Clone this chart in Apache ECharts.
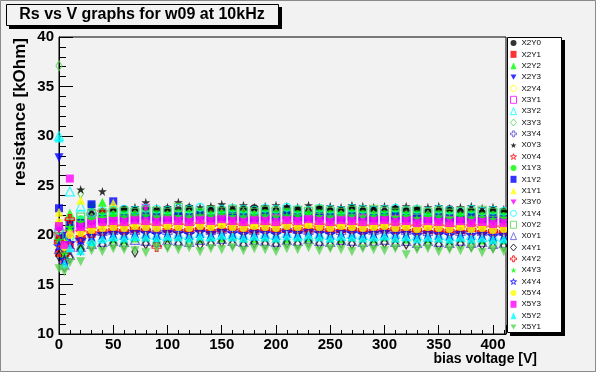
<!DOCTYPE html>
<html>
<head>
<meta charset="utf-8">
<script src="https://cdn.jsdelivr.net/npm/echarts@6/dist/echarts.min.js"></script>
<style>
  html, body { margin: 0; padding: 0; background: #f2f2f2; }
  #main { width: 596px; height: 372px; }
</style>
</head>
<body>
<div id="main"></div>
<script>
// bias voltage points [V]
const volts = [0, 5, 10, 20, 30, 40, 50, 60, 70, 80, 90, 100, 110, 120, 130, 140, 150,
  160, 170, 180, 190, 200, 210, 220, 230, 240, 250, 260, 270, 280, 290, 300,
  310, 320, 330, 340, 350, 360, 370, 380, 390, 400, 410];

// resistance [kOhm], one list per pad
const X2Y0 = [19.6, 18.9, 20.4,
  21.3, 22.0, 22.3, 22.4, 22.6, 22.5, 22.7, 22.4, 22.6, 22.5,
  22.7, 22.3, 22.6, 22.5, 22.4, 22.6, 22.7, 22.5, 22.4, 22.6,
  22.5, 22.3, 22.6, 22.4, 22.5, 22.7, 22.4, 22.5, 22.3, 22.6,
  22.4, 22.5, 22.3, 22.4, 22.6, 22.3, 22.4, 22.2, 22.4, 22.3];
const X2Y1 = [18.2, 17.6, 19.0,
  19.6, 20.1, 20.3, 20.5, 20.4, 20.6, 20.7, 20.5, 20.6, 20.8,
  20.6, 20.7, 20.5, 20.6, 20.8, 20.6, 20.5, 20.7, 20.6, 20.8,
  20.6, 20.5, 20.7, 20.6, 20.8, 20.6, 20.5, 20.7, 20.6, 20.5,
  20.7, 20.5, 20.6, 20.4, 20.6, 20.5, 20.7, 20.4, 20.5, 20.4];
const X2Y2 = [20.9, 18.0, 22.2,
  19.0, 19.4, 23.3, 19.6, 19.5, 19.7, 19.8, 19.6, 19.7, 19.9,
  19.7, 19.6, 19.8, 19.7, 19.9, 19.7, 19.6, 19.8, 19.7, 19.6,
  19.8, 19.7, 19.9, 19.7, 19.6, 19.8, 19.7, 19.6, 19.8, 19.7,
  19.6, 19.8, 19.6, 19.7, 19.5, 19.7, 19.6, 19.5, 19.6, 19.5];
const X2Y3 = [27.8, 19.5, 20.2,
  20.5, 20.9, 21.0, 21.1, 21.2, 21.0, 21.3, 21.2, 21.1, 21.3,
  21.2, 21.4, 21.1, 21.2, 21.3, 21.2, 21.1, 21.3, 21.2, 21.4,
  21.2, 21.1, 21.3, 21.2, 21.1, 21.3, 21.2, 21.1, 21.2, 21.3,
  21.1, 21.2, 21.0, 21.2, 21.1, 21.0, 21.2, 21.0, 21.1, 21.0];
const X2Y4 = [19.0, 18.4, 19.8,
  20.3, 20.6, 20.8, 20.9, 21.0, 20.8, 21.1, 21.0, 20.9, 21.1,
  21.0, 21.2, 20.9, 21.0, 21.1, 21.0, 20.9, 21.1, 21.0, 21.2,
  21.0, 20.9, 21.1, 21.0, 20.9, 21.1, 21.0, 20.9, 21.0, 21.1,
  20.9, 21.0, 20.8, 21.0, 20.9, 20.8, 21.0, 20.8, 20.9, 20.8];
const X3Y1 = [20.3, 19.2, 20.6,
  21.0, 21.3, 21.5, 21.4, 21.6, 21.5, 21.7, 21.6, 21.5, 21.7,
  21.6, 21.8, 21.5, 21.6, 21.7, 21.6, 21.5, 21.7, 21.6, 21.8,
  21.6, 21.5, 21.7, 21.6, 21.5, 21.7, 21.6, 21.5, 21.6, 21.7,
  21.5, 21.6, 21.4, 21.6, 21.5, 21.4, 21.6, 21.4, 21.5, 21.4];
const X3Y2 = [30.0, 18.6, 24.4,
  22.9, 19.6, 19.8, 19.9, 20.0, 19.9, 20.1, 20.0, 19.9, 20.1,
  20.0, 20.2, 19.9, 20.0, 20.1, 20.0, 19.9, 20.1, 20.0, 20.2,
  20.0, 19.9, 20.1, 20.0, 19.9, 20.1, 20.0, 19.9, 20.0, 20.1,
  19.9, 20.0, 19.8, 20.0, 19.9, 19.8, 20.0, 19.8, 19.9, 19.8];
const X3Y3 = [37.1, 20.0, 21.0,
  24.2, 21.7, 21.9, 22.0, 21.9, 22.1, 22.0, 22.2, 21.9, 22.0,
  22.1, 22.0, 21.9, 22.1, 22.0, 22.2, 22.0, 21.9, 22.1, 22.0,
  21.9, 22.1, 22.0, 21.9, 22.0, 22.1, 21.9, 22.0, 21.8, 22.0,
  21.9, 21.8, 22.0, 21.8, 21.9, 21.8, 21.9, 21.7, 21.8, 21.7];
const X3Y4 = [19.4, 17.3, 18.5,
  19.6, 22.1, 20.1, 20.2, 20.3, 20.2, 20.4, 20.3, 20.2, 20.4,
  20.3, 20.5, 20.2, 20.3, 20.4, 20.3, 20.2, 20.4, 20.3, 20.5,
  20.3, 20.2, 20.4, 20.3, 20.2, 20.4, 20.3, 20.2, 20.3, 20.4,
  20.2, 20.3, 20.1, 20.3, 20.2, 20.1, 20.3, 20.1, 20.2, 20.1];
const X0Y3 = [20.8, 19.7, 21.3,
  24.6, 22.5, 24.4, 22.8, 22.6, 22.8, 23.3, 22.7, 22.8, 23.3,
  22.9, 22.8, 22.9, 23.1, 22.8, 23.0, 22.8, 22.9, 23.0, 22.9,
  22.8, 23.0, 22.8, 22.9, 22.8, 23.0, 22.9, 22.8, 22.9, 22.8,
  22.9, 22.7, 22.8, 22.9, 22.7, 22.8, 22.9, 22.7, 22.8, 22.6];
const X0Y4 = [20.1, 18.7, 21.4,
  20.3, 20.6, 22.3, 20.8, 20.9, 20.7, 21.0, 20.9, 20.8, 21.0,
  20.9, 21.1, 20.8, 20.9, 21.0, 20.9, 20.8, 21.0, 20.9, 21.1,
  20.9, 20.8, 21.0, 20.9, 20.8, 21.0, 20.9, 20.8, 20.9, 21.0,
  20.8, 20.9, 20.7, 20.9, 20.8, 20.7, 20.9, 20.7, 20.8, 20.7];
const X1Y3 = [21.0, 19.6, 20.7,
  21.6, 23.0, 21.9, 22.0, 22.1, 22.0, 22.2, 22.1, 22.0, 22.2,
  22.1, 22.3, 22.0, 22.1, 22.2, 22.1, 22.0, 22.2, 22.1, 22.3,
  22.1, 22.0, 22.2, 22.1, 22.0, 22.2, 22.1, 22.0, 22.1, 22.2,
  22.0, 22.1, 21.9, 22.1, 22.0, 21.9, 22.1, 21.9, 22.0, 21.9];
const X1Y2 = [22.7, 19.9, 21.0,
  21.2, 23.1, 21.6, 23.4, 21.7, 21.8, 21.9, 21.8, 21.7, 21.9,
  21.8, 22.0, 21.7, 21.8, 21.9, 21.8, 21.7, 21.9, 21.8, 22.0,
  21.8, 21.7, 21.9, 21.8, 21.7, 21.9, 21.8, 21.7, 21.8, 21.9,
  21.7, 21.8, 21.6, 21.8, 21.7, 21.6, 21.8, 21.6, 21.7, 21.6];
const X1Y1 = [22.3, 19.3, 20.5,
  23.5, 21.0, 21.2, 23.2, 21.3, 21.2, 21.4, 21.3, 21.2, 21.4,
  21.3, 21.5, 21.2, 21.3, 21.4, 21.3, 21.2, 21.4, 21.3, 21.5,
  21.3, 21.2, 21.4, 21.3, 21.2, 21.4, 21.3, 21.2, 21.3, 21.4,
  21.2, 21.3, 21.1, 21.3, 21.2, 21.1, 21.3, 21.1, 21.2, 21.1];
const X3Y0 = [20.6, 18.5, 19.9,
  20.9, 21.2, 21.4, 21.5, 21.4, 21.6, 22.7, 21.5, 21.6, 21.5,
  21.4, 21.6, 21.5, 21.7, 21.5, 21.4, 21.6, 21.5, 21.7, 21.5,
  21.4, 21.6, 21.5, 21.4, 21.6, 21.5, 21.7, 21.5, 21.4, 21.6,
  21.5, 21.4, 21.5, 21.3, 21.5, 21.4, 21.3, 21.5, 21.3, 21.4];
const X1Y4 = [20.5, 17.9, 19.8,
  22.1, 22.2, 22.4, 22.5, 22.6, 22.5, 22.7, 22.6, 22.5, 22.7,
  22.6, 22.8, 22.5, 22.6, 22.7, 22.6, 22.5, 22.7, 22.6, 22.8,
  22.6, 22.5, 22.7, 22.6, 22.5, 22.7, 22.6, 22.5, 22.6, 22.7,
  22.5, 22.6, 22.4, 22.6, 22.5, 22.4, 22.6, 22.4, 22.5, 22.4];
const X0Y2 = [19.8, 18.2, 21.2,
  21.8, 22.1, 22.2, 22.3, 22.4, 22.3, 22.5, 22.4, 22.3, 22.8,
  22.4, 22.3, 22.5, 22.4, 22.6, 22.4, 22.3, 22.5, 22.4, 22.3,
  22.5, 22.4, 22.6, 22.4, 22.3, 22.5, 22.4, 22.6, 22.4, 22.3,
  22.4, 22.5, 22.3, 22.4, 22.2, 22.4, 22.3, 22.5, 22.3, 22.2];
const X0Y1 = [18.6, 17.0, 18.0,
  18.8, 19.1, 19.3, 19.4, 19.3, 19.5, 19.4, 19.3, 19.5, 19.4,
  19.3, 19.5, 19.4, 19.6, 19.4, 19.3, 19.5, 19.4, 19.3, 19.5,
  19.4, 19.6, 19.4, 19.3, 19.5, 19.4, 19.3, 19.4, 19.5, 19.3,
  19.4, 19.2, 19.4, 19.3, 19.2, 19.4, 19.2, 19.3, 19.1, 19.2];
const X4Y1 = [17.9, 16.8, 17.7,
  18.5, 18.9, 19.0, 19.1, 19.0, 18.3, 19.1, 19.2, 19.0, 19.1,
  19.2, 19.0, 19.1, 19.3, 19.1, 19.0, 19.2, 19.1, 19.0, 19.2,
  19.1, 19.3, 19.1, 19.0, 19.2, 19.1, 19.0, 19.1, 19.2, 19.0,
  19.1, 18.9, 19.1, 19.0, 18.9, 19.1, 18.9, 19.0, 18.8, 18.9];
const X4Y2 = [19.3, 18.0, 21.6,
  19.8, 20.2, 20.4, 20.5, 20.4, 20.6, 20.5, 18.8, 20.5, 20.4,
  20.5, 20.6, 20.4, 20.5, 20.7, 20.5, 20.4, 20.6, 20.5, 20.4,
  20.6, 20.5, 20.7, 20.5, 20.4, 20.6, 20.5, 20.4, 20.5, 20.6,
  20.4, 20.5, 20.3, 20.5, 20.4, 20.3, 20.5, 20.3, 20.4, 20.3];
const X4Y3 = [19.5, 18.1, 20.8,
  21.3, 21.6, 21.8, 21.9, 21.8, 22.0, 21.9, 21.8, 22.0, 21.9,
  21.8, 22.0, 21.9, 22.1, 21.9, 21.8, 22.0, 21.9, 21.8, 22.0,
  21.9, 22.1, 21.9, 21.8, 22.0, 21.9, 21.8, 21.9, 22.0, 21.8,
  21.9, 21.7, 21.9, 21.8, 21.7, 21.9, 21.7, 21.8, 21.6, 21.7];
const X4Y4 = [18.9, 17.5, 19.2,
  19.5, 19.9, 20.1, 20.2, 20.1, 20.3, 20.2, 20.1, 20.3, 20.2,
  20.1, 20.3, 20.2, 20.4, 20.2, 20.1, 20.3, 20.2, 20.1, 20.3,
  20.2, 20.4, 20.2, 20.1, 20.3, 20.2, 20.1, 20.2, 20.3, 20.1,
  20.2, 20.0, 20.2, 20.1, 20.0, 20.2, 20.0, 20.1, 19.9, 20.0];
const X5Y4 = [21.3, 18.8, 20.0,
  20.2, 20.5, 20.7, 20.8, 20.7, 20.9, 20.8, 20.7, 20.9, 20.8,
  20.7, 20.9, 20.8, 21.0, 20.8, 20.7, 20.9, 20.8, 20.7, 20.9,
  20.8, 21.0, 20.8, 20.7, 20.9, 20.8, 20.7, 20.8, 20.9, 20.7,
  20.8, 20.6, 20.8, 20.7, 20.6, 20.8, 20.6, 20.7, 20.5, 20.6];
const X5Y3 = [20.9, 19.0, 25.7,
  20.8, 21.1, 21.3, 21.4, 21.3, 21.5, 21.4, 21.3, 21.5, 21.4,
  21.3, 21.5, 21.4, 21.6, 21.4, 21.3, 21.5, 21.4, 21.3, 21.5,
  21.4, 21.6, 21.4, 21.3, 21.5, 21.4, 21.3, 21.4, 21.5, 21.3,
  21.4, 21.2, 21.4, 21.3, 21.2, 21.4, 21.2, 21.3, 21.1, 21.2];
const X5Y2 = [29.8, 17.1, 18.7,
  18.4, 19.3, 19.6, 19.8, 19.7, 19.9, 19.8, 19.7, 19.9, 19.8,
  19.7, 19.9, 19.8, 20.0, 19.8, 19.7, 19.9, 19.8, 19.7, 19.9,
  19.8, 20.0, 19.8, 19.7, 19.9, 19.8, 19.7, 19.8, 19.9, 19.7,
  19.8, 19.6, 19.8, 19.7, 19.6, 19.8, 19.6, 19.7, 19.5, 19.6];
const X5Y1 = [16.6, 16.3, 17.2,
  17.3, 18.4, 18.3, 18.6, 18.5, 18.4, 18.2, 18.7, 18.6, 18.5,
  18.7, 18.3, 18.6, 18.5, 18.7, 18.4, 18.6, 18.5, 18.3, 18.6,
  18.5, 18.7, 18.4, 18.6, 18.5, 18.3, 18.6, 18.5, 18.4, 18.6,
  18.0, 18.5, 18.6, 18.3, 18.5, 18.4, 18.6, 18.2, 18.5, 18.3];

const padNames = ['X2Y0', 'X2Y1', 'X2Y2', 'X2Y3', 'X2Y4', 'X3Y1', 'X3Y2', 'X3Y3', 'X3Y4',
  'X0Y3', 'X0Y4', 'X1Y3', 'X1Y2', 'X1Y1', 'X3Y0', 'X1Y4', 'X0Y2', 'X0Y1', 'X4Y1',
  'X4Y2', 'X4Y3', 'X4Y4', 'X5Y4', 'X5Y3', 'X5Y2', 'X5Y1'];
const padValues = [X2Y0, X2Y1, X2Y2, X2Y3, X2Y4, X3Y1, X3Y2, X3Y3, X3Y4,
  X0Y3, X0Y4, X1Y3, X1Y2, X1Y1, X3Y0, X1Y4, X0Y2, X0Y1, X4Y1,
  X4Y2, X4Y3, X4Y4, X5Y4, X5Y3, X5Y2, X5Y1];

// ROOT-like colours 1..9 and markers 20..30
const rootColors = ['#000000', '#ff0000', '#00ff00', '#0000ff', '#ffff00',
  '#ff00ff', '#00ffff', '#59d454', '#5954d9'];
const STAR = 'path://M50,0L61.2,34.5L97.6,34.5L68.2,55.9L79.4,90.5L50,69.1L20.6,90.5L31.8,55.9L2.4,34.5L38.8,34.5Z';
const CROSS = 'path://M35,0H65V35H100V65H65V100H35V65H0V35H35Z';
const TRI_DOWN = 'path://M0,0L100,0L50,87Z';
const markerKinds = [
  { symbol: 'circle', fill: true, size: 8 },
  { symbol: 'rect', fill: true, size: 8 },
  { symbol: 'triangle', fill: true, size: 9 },
  { symbol: TRI_DOWN, fill: true, size: 9 },
  { symbol: 'circle', fill: false, size: 8 },
  { symbol: 'rect', fill: false, size: 8 },
  { symbol: 'triangle', fill: false, size: 9 },
  { symbol: 'diamond', fill: false, size: [6, 10] },
  { symbol: CROSS, fill: false, size: 9 },
  { symbol: STAR, fill: true, size: 9 },
  { symbol: STAR, fill: false, size: 9 },
];

const FONT = '"Liberation Sans", Arial, Helvetica, sans-serif';

const chart = echarts.init(document.getElementById('main'), null, { renderer: 'canvas' });

const series = padNames.map((name, i) => {
  const c = rootColors[i % 9];
  const m = markerKinds[i % 11];
  return {
    name: name,
    type: 'scatter',
    symbol: m.symbol,
    symbolSize: m.size,
    itemStyle: m.fill
      ? { color: c, borderWidth: 0 }
      : { color: 'rgba(0,0,0,0)', borderColor: c, borderWidth: 1.2 },
    emphasis: { disabled: true },
    data: padValues[i].map((v, k) => [volts[k], v]),
  };
});

const option = {
  backgroundColor: '#f2f2f2',
  animation: false,
  grid: {
    left: 59, right: 90, top: 37, bottom: 38,
    show: true, borderColor: '#000', borderWidth: 1,
    backgroundColor: 'rgba(0,0,0,0)',
    containLabel: false,
    outerBoundsMode: 'none',
  },
  xAxis: {
    type: 'value', min: 0, max: 412, interval: 50,
    axisLine: { show: true, onZero: false, lineStyle: { color: '#000', width: 1 } },
    axisTick: { show: true, inside: true, length: 9, lineStyle: { color: '#000' } },
    minorTick: { show: true, splitNumber: 5, length: 4, lineStyle: { color: '#000' } },
    splitLine: { show: false },
    minorSplitLine: { show: false },
    axisLabel: {
      color: '#000', fontWeight: 'bold', fontSize: 15, fontFamily: FONT, margin: 3,
      formatter: (v) => (v % 50 === 0 ? String(v) : ''),
    },
  },
  yAxis: {
    type: 'value', min: 10, max: 40, interval: 5,
    axisLine: { show: true, onZero: false, lineStyle: { color: '#000', width: 1 } },
    axisTick: { show: true, inside: true, length: 14, lineStyle: { color: '#000' } },
    minorTick: { show: true, splitNumber: 5, length: 7, lineStyle: { color: '#000' } },
    splitLine: { show: false },
    minorSplitLine: { show: false },
    axisLabel: { color: '#000', fontWeight: 'bold', fontSize: 15, fontFamily: FONT, margin: 5 },
  },
  legend: {
    orient: 'vertical',
    left: 510, top: 39,
    padding: 0,
    itemWidth: 6, itemHeight: 7, itemGap: 3.36,
    selectedMode: false,
    z: 60,
    itemStyle: { borderWidth: 1 },
    textStyle: { color: '#000', fontSize: 8, lineHeight: 8, fontFamily: FONT },
    data: padNames,
  },
  graphic: [
    { type: 'rect', z: 5, shape: { x: 0.5, y: 0.5, width: 595, height: 371 },
      style: { fill: 'none', stroke: '#8a8a8a', lineWidth: 1 } },
    // title box
    { type: 'rect', z: 5, shape: { x: 9, y: 7, width: 273, height: 22 }, style: { fill: '#000' } },
    { type: 'rect', z: 6, shape: { x: 6.5, y: 4.5, width: 272, height: 21 },
      style: { fill: '#f2f2f2', stroke: '#000', lineWidth: 1 } },
    { type: 'text', z: 7, x: 142, y: 15,
      style: { text: 'Rs vs V graphs for w09 at 10kHz', fill: '#000',
        font: 'bold 16px ' + FONT, textAlign: 'center', textVerticalAlign: 'middle' } },
    // legend box
    { type: 'rect', z: 5, shape: { x: 510, y: 40, width: 55, height: 296 }, style: { fill: '#000' } },
    { type: 'rect', z: 6, shape: { x: 507.5, y: 37.5, width: 54, height: 295 },
      style: { fill: '#ffffff', stroke: '#000', lineWidth: 1 } },
    // axis titles
    { type: 'text', z: 7, x: 20, y: 38, rotation: Math.PI / 2,
      style: { text: 'resistance [kOhm]', fill: '#000',
        font: 'bold 17px ' + FONT, textAlign: 'right', textVerticalAlign: 'middle' } },
    { type: 'text', z: 7, x: 537, y: 359,
      style: { text: 'bias voltage [V]', fill: '#000',
        font: 'bold 14px ' + FONT, textAlign: 'right', textVerticalAlign: 'middle' } },
  ],
  series: series,
};

chart.setOption(option);
</script>
</body>
</html>
